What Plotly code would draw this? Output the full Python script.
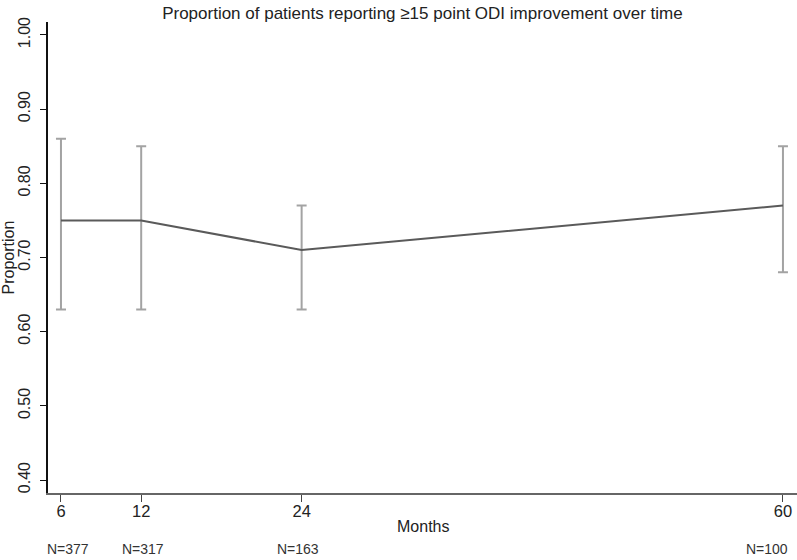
import plotly.graph_objects as go

months = [6, 12, 24, 60]
proportion = [0.75, 0.75, 0.71, 0.77]
ci_low = [0.63, 0.63, 0.63, 0.68]
ci_high = [0.86, 0.85, 0.77, 0.85]
n_labels = ["N=377", "N=317", "N=163", "N=100"]
n_xshift = [7, 2, -4, -16]
y_ticks = [0.40, 0.50, 0.60, 0.70, 0.80, 0.90, 1.00]

FONT = "Liberation Sans, Arial, sans-serif"

fig = go.Figure()

# error bars (drawn in light gray)
fig.add_trace(go.Scatter(
    x=months, y=proportion, mode="markers",
    marker=dict(size=0.1, color="rgba(0,0,0,0)"),
    error_y=dict(type="data", symmetric=False,
                 array=[h - p for h, p in zip(ci_high, proportion)],
                 arrayminus=[p - l for l, p in zip(ci_low, proportion)],
                 color="#a3a3a3", thickness=2, width=5),
    showlegend=False, hoverinfo="skip", cliponaxis=False))

fig.add_trace(go.Scatter(
    x=months, y=proportion, mode="lines",
    line=dict(color="#5a5a5a", width=2),
    showlegend=False))

for m, lab, dx in zip(months, n_labels, n_xshift):
    fig.add_annotation(x=m, y=-0.119, xref="x", yref="paper", text=lab,
                       showarrow=False, xshift=dx, yanchor="middle",
                       font=dict(family=FONT, size=14, color="#333333"))

fig.add_annotation(x=0.5, y=-0.072, xref="paper", yref="paper", text="Months",
                   showarrow=False, yanchor="middle",
                   font=dict(family=FONT, size=16, color="#222222"))
fig.add_annotation(x=-0.0534, y=0.5, xref="paper", yref="paper", text="Proportion",
                   textangle=-90, showarrow=False, xanchor="center", yanchor="middle",
                   font=dict(family=FONT, size=16, color="#222222"))

fig.update_layout(
    width=797, height=560,
    margin=dict(l=48, r=0, t=22, b=67, autoexpand=False),
    paper_bgcolor="white", plot_bgcolor="white",
    title=dict(text="Proportion of patients reporting ≥15 point ODI improvement over time",
               x=0.53, xanchor="center", y=1 - 13 / 560, yanchor="middle",
               yref="container",
               font=dict(family=FONT, size=17, color="#222222")),
    font=dict(family=FONT, color="#222222"),
)

fig.update_xaxes(range=[5.03, 61.05], tickvals=months, ticktext=[str(m) for m in months],
                 showgrid=False, zeroline=False, showline=True, linecolor="#666666",
                 linewidth=2, ticks="outside", ticklen=7, tickcolor="#444444", tickwidth=1,
                 automargin=False, ticklabelstandoff=-5,
                 tickfont=dict(family=FONT, size=16.5, color="#222222"))
fig.update_yaxes(range=[0.3825, 1.0175], tickvals=y_ticks,
                 ticktext=[f"{v:.2f}" for v in y_ticks], tickangle=-90,
                 showgrid=False, zeroline=False, showline=True, linecolor="#111111",
                 linewidth=1.5, ticks="outside", ticklen=6, tickcolor="#111111", tickwidth=1,
                 ticklabelstandoff=4, automargin=False,
                 tickfont=dict(family=FONT, size=16, color="#222222"))

fig.write_html("out.html", config={"displayModeBar": False},
               post_script="document.body.style.margin='0';document.body.style.overflow='hidden';")
